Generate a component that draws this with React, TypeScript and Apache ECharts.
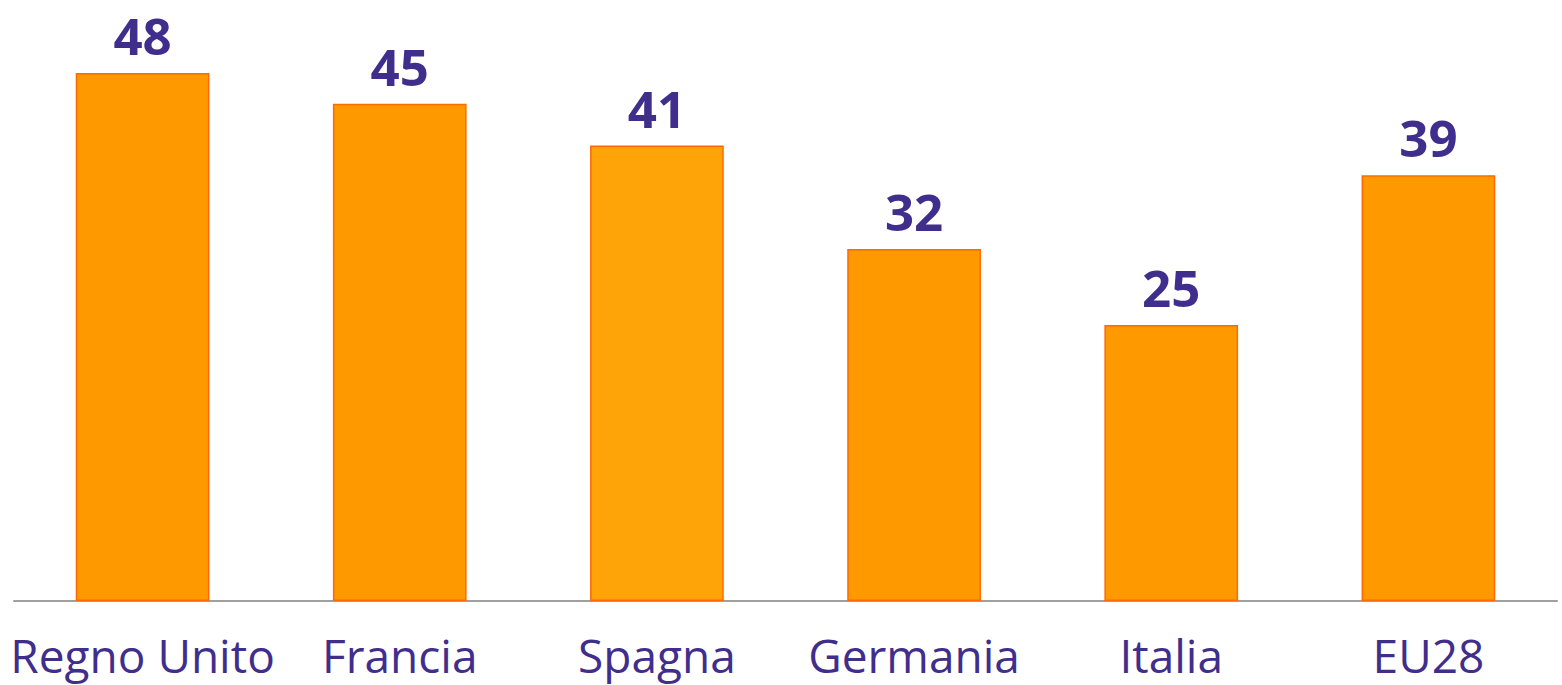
import React, { useEffect, useRef } from "react";
import * as echarts from "echarts";

const categories = ["Regno Unito", "Francia", "Spagna", "Germania", "Italia", "EU28"];
const values = [48.0, 45.2, 41.4, 32.0, 25.1, 38.7];
const barColors = ["#FF9900", "#FF9900", "#FFA408", "#FF9900", "#FF9900", "#FF9900"];

const PURPLE = "#3F2E8C";
const FONT = "'Open Sans', 'Noto Sans', sans-serif";

export default function App() {
  const ref = useRef<HTMLDivElement>(null);
  useEffect(() => {
    if (!ref.current) return;
    const chart = echarts.init(ref.current, null, { renderer: "svg" });
    chart.setOption({
      animation: false,
      backgroundColor: "#ffffff",
      grid: { left: 14, right: 5, top: 7, bottom: 84, containLabel: false },
      xAxis: {
        type: "category",
        data: categories,
        axisLine: { show: true, lineStyle: { color: "#A0A0A0", width: 2 } },
        axisTick: { show: false },
        axisLabel: {
          color: PURPLE,
          fontSize: 46,
          fontFamily: FONT,
          margin: 31,
          interval: 0,
        },
      },
      yAxis: {
        type: "value",
        min: 0,
        max: 54,
        show: false,
        splitLine: { show: false },
      },
      series: [
        {
          type: "bar",
          barWidth: "52%",
          data: values.map((v, i) => ({
            value: v,
            itemStyle: {
              color: barColors[i],
              borderColor: "#FF6A00",
              borderWidth: 1.5,
            },
          })),
          label: {
            show: true,
            position: "top",
            distance: 15,
            color: PURPLE,
            fontSize: 51,
            lineHeight: 46,
            fontWeight: "bold",
            fontFamily: FONT,
            formatter: (p: any) => String(Math.round(p.value)),
          },
        },
      ],
    });
    return () => chart.dispose();
  }, []);
  return (
    <div
      ref={ref}
      style={{ position: "absolute", left: 0, top: 0, width: 1562, height: 685 }}
    />
  );
}
